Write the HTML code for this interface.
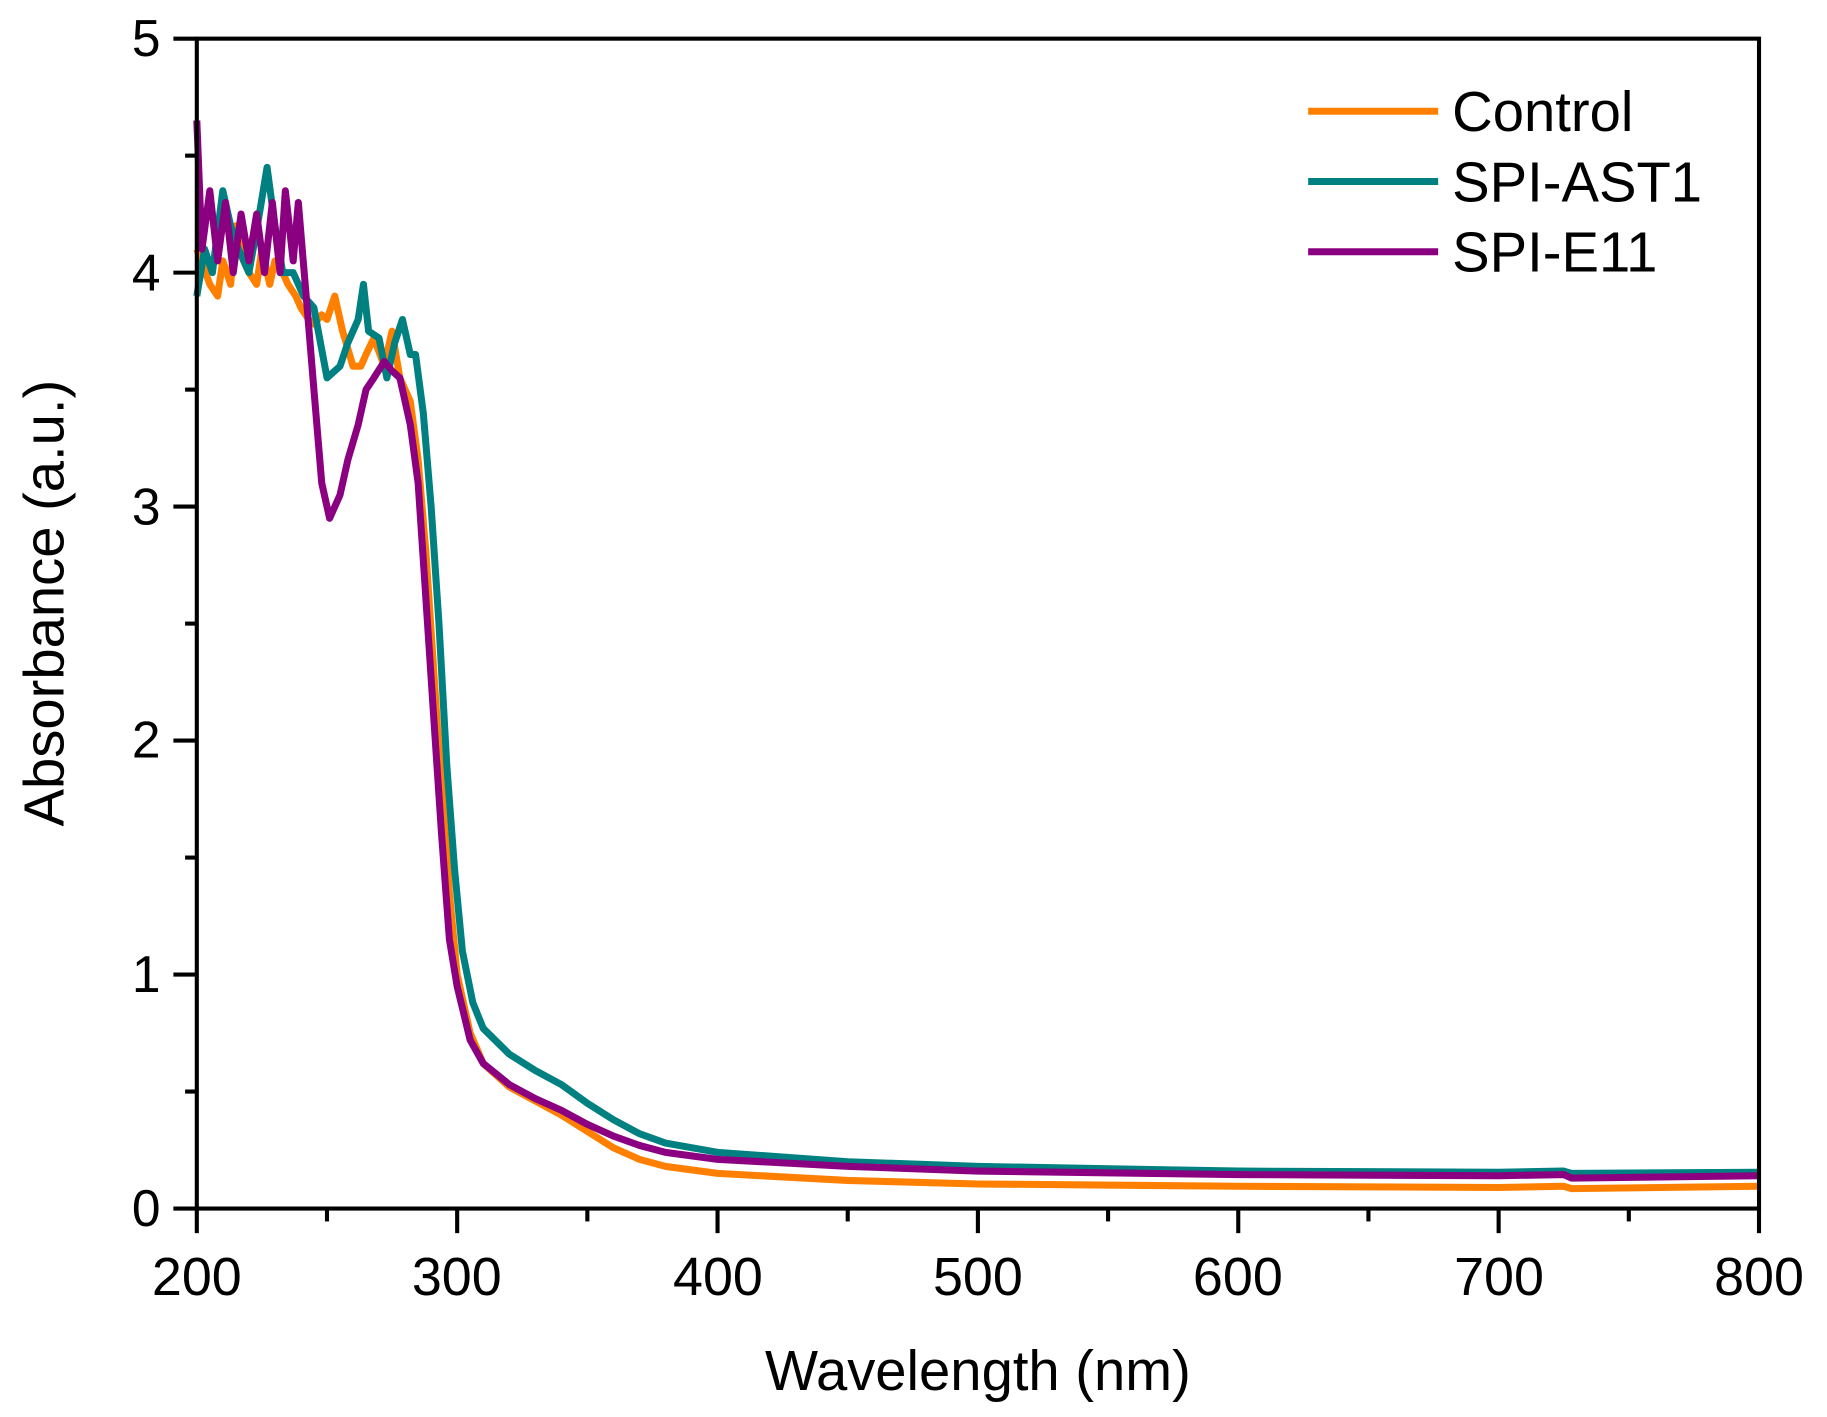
<!DOCTYPE html>
<html><head><meta charset="utf-8"><style>html,body{margin:0;padding:0;background:#fff}svg{display:block}text{font-family:"Liberation Sans",Arial,sans-serif;fill:#000}</style></head>
<body>
<svg id="s" width="1827" height="1417" viewBox="0 0 1560 1210" xmlns="http://www.w3.org/2000/svg">
<g id="series" fill="none" stroke-width="6" stroke-linejoin="round"></g>
<g stroke="#000" stroke-width="3.5" fill="none">
<rect x="168" y="33" width="1334" height="999"/>
</g>
<g id="ticks" stroke="#000" stroke-width="3.5"></g>
<g font-size="44" text-anchor="end">
<text x="137" y="1047">0</text><text x="137" y="847">1</text><text x="137" y="647">2</text><text x="137" y="448">3</text><text x="137" y="248">4</text><text x="137" y="48">5</text>
</g>
<g font-size="46" text-anchor="middle">
<text x="168" y="1106">200</text><text x="390" y="1106">300</text><text x="613" y="1106">400</text><text x="835" y="1106">500</text><text x="1057" y="1106">600</text><text x="1280" y="1106">700</text><text x="1502" y="1106">800</text>
</g>
<text x="835" y="1187" font-size="48" text-anchor="middle">Wavelength (nm)</text>
<text transform="translate(54,515) rotate(-90)" font-size="48" text-anchor="middle">Absorbance (a.u.)</text>
<g stroke-width="6">
<line x1="1117" y1="95" x2="1228" y2="95" stroke="#FF8000"/>
<line x1="1117" y1="155" x2="1228" y2="155" stroke="#008080"/>
<line x1="1117" y1="215" x2="1228" y2="215" stroke="#8B0080"/>
</g>
<g font-size="48"><text x="1240" y="112">Control</text><text x="1240" y="172">SPI-AST1</text><text x="1240" y="232">SPI-E11</text></g>
</svg>
<script>
var X=function(w){return 168+2.2233*(w-200)},Y=function(a){return 1032-199.8*a};
var d={
"#FF8000":[[200,4.1],[205,3.95],[208,3.9],[210,4.05],[213,3.95],[215,4.2],[218,4.05],[220,4.0],[223,3.95],[225,4.1],[228,3.95],[230,4.05],[233,4.0],[235,3.95],[238,3.9],[240,3.85],[243,3.8],[245,3.78],[248,3.82],[250,3.8],[253,3.9],[256,3.75],[260,3.6],[263,3.6],[265,3.65],[268,3.72],[272,3.6],[275,3.75],[278,3.55],[282,3.45],[285,3.2],[288,2.8],[291,2.3],[294,1.8],[297,1.35],[300,1.0],[305,0.75],[310,0.62],[320,0.52],[330,0.46],[340,0.40],[350,0.33],[360,0.26],[370,0.21],[380,0.18],[400,0.15],[450,0.12],[500,0.105],[600,0.095],[700,0.09],[725,0.095],[728,0.085],[800,0.095]],
"#008080":[[200,3.9],[203,4.1],[206,4.0],[210,4.35],[213,4.2],[216,4.1],[220,4.0],[224,4.25],[227,4.45],[230,4.2],[233,4.0],[237,4.0],[241,3.9],[245,3.85],[250,3.55],[255,3.6],[258,3.7],[262,3.8],[264,3.95],[266,3.75],[270,3.72],[273,3.55],[276,3.7],[279,3.8],[282,3.65],[284,3.65],[287,3.4],[290,3.0],[293,2.5],[296,1.9],[299,1.45],[302,1.1],[306,0.88],[310,0.77],[320,0.66],[330,0.59],[340,0.53],[350,0.45],[360,0.38],[370,0.32],[380,0.28],[400,0.24],[450,0.2],[500,0.18],[600,0.16],[700,0.155],[725,0.16],[728,0.15],[800,0.155]],
"#8B0080":[[200,4.65],[202,4.1],[205,4.35],[208,4.05],[211,4.3],[214,4.0],[217,4.25],[220,4.05],[223,4.25],[226,4.0],[229,4.3],[232,4.0],[234,4.35],[237,4.05],[239,4.3],[242,3.9],[245,3.5],[248,3.1],[251,2.95],[255,3.05],[258,3.2],[262,3.35],[265,3.5],[268,3.55],[272,3.62],[275,3.58],[278,3.55],[282,3.35],[285,3.1],[288,2.6],[291,2.1],[294,1.6],[297,1.15],[300,0.95],[305,0.72],[310,0.62],[320,0.53],[330,0.47],[340,0.42],[350,0.36],[360,0.31],[370,0.27],[380,0.24],[400,0.21],[450,0.18],[500,0.16],[600,0.145],[700,0.14],[725,0.145],[728,0.13],[800,0.14]]};
var ns="http://www.w3.org/2000/svg",g=document.getElementById("series");
for(var c in d){var p=document.createElementNS(ns,"polyline");p.setAttribute("stroke",c);p.setAttribute("points",d[c].map(function(q){return X(q[0]).toFixed(1)+","+Y(q[1]).toFixed(1)}).join(" "));g.appendChild(p);}
var t=document.getElementById("ticks");
function ln(a,b,c,e){var l=document.createElementNS(ns,"line");l.setAttribute("x1",a);l.setAttribute("y1",b);l.setAttribute("x2",c);l.setAttribute("y2",e);t.appendChild(l);}
for(var i=0;i<=10;i++){var y=Y(i/2);ln(168,y,i%2?158:148,y);}
for(var w=200;w<=800;w+=50){var x=X(w);ln(x,1032,x,w%100?1043:1053);}
</script>
</body></html>
